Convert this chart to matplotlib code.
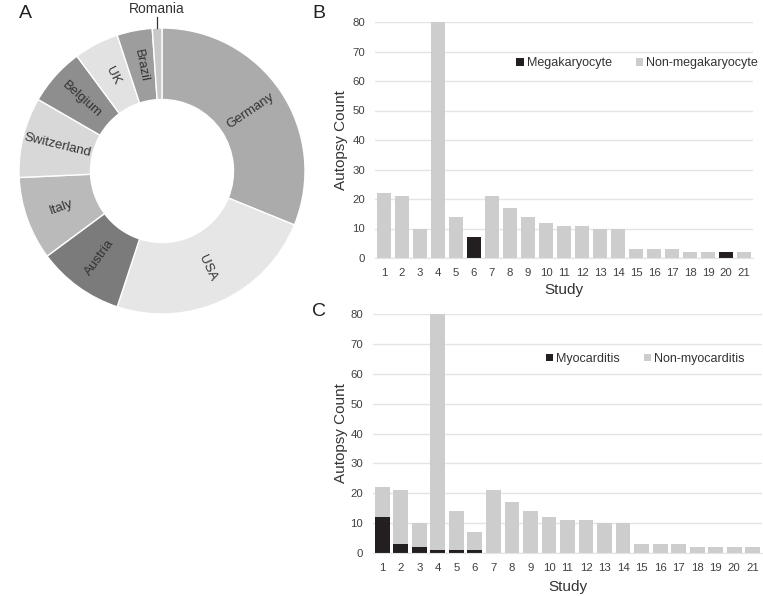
import matplotlib
matplotlib.use("Agg")
import matplotlib.pyplot as plt
import numpy as np

plt.rcParams['font.family'] = ['Liberation Sans', 'DejaVu Sans']

# ---- Data ----
countries = ["Germany", "USA", "Austria", "Italy", "Switzerland", "Belgium", "UK", "Brazil", "Romania"]
country_counts = [86, 66, 27, 26, 25, 18, 14, 11, 3]
country_colors = ["#ababab", "#e6e6e6", "#7b7b7b", "#bababa", "#d8d8d8", "#8e8e8e", "#e2e2e2", "#9d9d9d", "#c9c9c9"]

studies = [str(i) for i in range(1, 22)]
totals = [22, 21, 10, 80, 14, 7, 21, 17, 14, 12, 11, 11, 10, 10, 3, 3, 3, 2, 2, 2, 2]
megakaryocyte = [0, 0, 0, 0, 0, 7, 0, 0, 0, 0, 0, 0, 0, 0, 0, 0, 0, 0, 0, 2, 0]
myocarditis = [12, 3, 2, 1, 1, 1, 0, 0, 0, 0, 0, 0, 0, 0, 0, 0, 0, 0, 0, 0, 0]

W, H = 763, 596
fig = plt.figure(figsize=(W / 100, H / 100), dpi=100)

def fr(x0, y0, x1, y1):
    return [x0 / W, 1 - y1 / H, (x1 - x0) / W, (y1 - y0) / H]

# ---- Panel A: donut ----
cx, cy, R = 162, 171, 143
axA = fig.add_axes(fr(cx - R, cy - R, cx + R, cy + R))
wedges, _ = axA.pie(country_counts, colors=country_colors, startangle=90, counterclock=False,
                    radius=1.0, wedgeprops=dict(width=0.5, edgecolor="white", linewidth=1.0))
axA.set_xlim(-1, 1)
axA.set_ylim(-1, 1)
axA.set_aspect("equal")
axA.axis("off")

total_c = sum(country_counts)
start = 90.0
for name, cnt in zip(countries, country_counts):
    span = 360.0 * cnt / total_c
    mid = start - span / 2
    start -= span
    th = np.deg2rad(mid)
    if name == "Romania":
        x = np.cos(th)
        axA.plot([x, x], [1.0, 1.075], color="#333333", lw=0.9, clip_on=False)
        axA.text(x, 1.135, name, ha="center", va="center", fontsize=10, color="#333333", clip_on=False)
        continue
    r = 0.75
    rot = (mid + 180) % 360 - 180
    if rot > 90:
        rot -= 180
    if rot < -90:
        rot += 180
    axA.text(r * np.cos(th), r * np.sin(th), name, ha="center", va="center",
             rotation=rot, rotation_mode="anchor", fontsize=9.5, color="#333333")

fig.text(25 / W, 1 - 13 / H, "A", ha="center", va="center", fontsize=14, color="#222222")
fig.text(319 / W, 1 - 13 / H, "B", ha="center", va="center", fontsize=14, color="#222222")
fig.text(319 / W, 1 - 311 / H, "C", ha="center", va="center", fontsize=14, color="#222222")

gray = "#cdcdcd"
black = "#231f20"
x = np.arange(1, 22)

def style(ax, xlabel_y, ylabel_x):
    ax.set_xlim(0.5, 21.5)
    ax.set_ylim(0, 80)
    ax.set_yticks(range(0, 81, 10))
    ax.set_xticks(x)
    ax.set_xticklabels(studies)
    ax.grid(axis="y", color="#e4e4e4", linewidth=1.0)
    ax.set_axisbelow(True)
    for s in ["top", "right", "left"]:
        ax.spines[s].set_visible(False)
    ax.spines["bottom"].set_color("#e4e4e4")
    ax.tick_params(length=0, labelsize=8.2, colors="#404040", pad=7)
    ax.set_ylabel("Autopsy Count", fontsize=11, color="#333333")
    ax.set_xlabel("Study", fontsize=11, color="#333333")
    ax.yaxis.set_label_coords(ylabel_x, 0.5)
    ax.xaxis.set_label_coords(0.5, xlabel_y)

leg_kw = dict(loc="center", ncol=2, frameon=False, fontsize=9,
              handlelength=0.6, handleheight=0.6, handletextpad=0.25, columnspacing=1.9,
              labelcolor="#333333")

# ---- Panel B ----
axB = fig.add_axes(fr(375, 22, 753, 258))
non_mega = [t - m for t, m in zip(totals, megakaryocyte)]
axB.bar(x, megakaryocyte, width=0.8, color=black, label="Megakaryocyte")
axB.bar(x, non_mega, width=0.8, bottom=megakaryocyte, color=gray, label="Non-megakaryocyte")
style(axB, -0.106, -0.071)
axB.legend(bbox_to_anchor=(0.694, 0.826), **leg_kw)

# ---- Panel C ----
axC = fig.add_axes(fr(373, 314, 762, 553))
non_myo = [t - m for t, m in zip(totals, myocarditis)]
axC.bar(x, myocarditis, width=0.8, color=black, label="Myocarditis")
axC.bar(x, non_myo, width=0.8, bottom=myocarditis, color=gray, label="Non-myocarditis")
style(axC, -0.113, -0.064)
axC.legend(bbox_to_anchor=(0.70, 0.812), **leg_kw)

fig.savefig("out.png", dpi=100, facecolor="white")
